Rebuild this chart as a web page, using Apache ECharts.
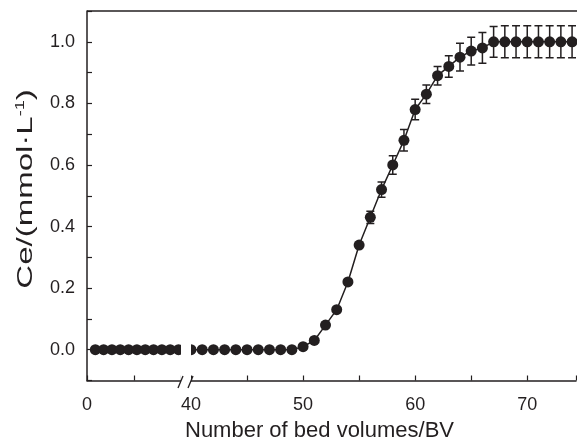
<!DOCTYPE html>
<html>
<head>
<meta charset="utf-8">
<script src="https://cdn.jsdelivr.net/npm/echarts@6/dist/echarts.min.js"></script>
<style>html,body{margin:0;padding:0;background:#fff}#c{width:577px;height:441px}</style>
</head>
<body>
<div id="c"></div>
<script>
// Left segment (before axis break)
const leftBV = [1, 2, 3, 4, 5, 6, 7, 8, 9, 10, 11];
const leftCe = [0, 0, 0, 0, 0, 0, 0, 0, 0, 0, 0];
// Right segment (after axis break)
const rightBV = [40, 41, 42, 43, 44, 45, 46, 47, 48, 49, 50, 51, 52, 53, 54, 55, 56, 57, 58, 59, 60, 61, 62, 63, 64, 65, 66, 67, 68, 69, 70, 71, 72, 73, 74];
const rightCe = [0, 0, 0, 0, 0, 0, 0, 0, 0, 0, 0.01, 0.03, 0.08, 0.13, 0.22, 0.34, 0.43, 0.52, 0.60, 0.68, 0.78, 0.83, 0.89, 0.92, 0.95, 0.97, 0.98, 1.0, 1.0, 1.0, 1.0, 1.0, 1.0, 1.0, 1.0];
const rightErr = [0, 0, 0, 0, 0, 0, 0, 0, 0, 0, 0, 0, 0, 0, 0, 0, 0.02, 0.025, 0.03, 0.035, 0.033, 0.03, 0.03, 0.035, 0.045, 0.045, 0.05, 0.05, 0.052, 0.052, 0.052, 0.052, 0.052, 0.052, 0.052];
const yTicks = ['0.0', '0.2', '0.4', '0.6', '0.8', '1.0'];
const xTitle = 'Number of bed volumes/BV';
const yTitle = 'Ce/(mmol·L{sup|-1})';

const INK = '#231f20';
const FONT = 'Liberation Sans, Arial, sans-serif';
const chart = echarts.init(document.getElementById('c'));

const leftData = leftBV.map((x, i) => [x, leftCe[i]]);
const rightData = rightBV.map((x, i) => [x, rightCe[i]]);
const errData = rightBV.map((x, i) => [x, rightCe[i], rightErr[i]]).filter(d => d[2] > 0);

const axisCommon = {
  axisLine: { show: true, onZero: false, lineStyle: { color: INK, width: 1.5 } },
  axisTick: { show: true, inside: true, length: 5, lineStyle: { color: INK, width: 1.2 } },
  splitLine: { show: false },
  axisLabel: { color: INK, fontSize: 18, fontFamily: FONT }
};

chart.setOption({
  animation: false,
  backgroundColor: '#fff',
  grid: [
    { left: 87, top: 11, width: 94, height: 369.5, containLabel: false, outerBoundsMode: 'none' },
    { left: 191, top: 11, width: 385, height: 369.5, containLabel: false, outerBoundsMode: 'none' }
  ],
  xAxis: [
    Object.assign({}, axisCommon, {
      type: 'value', gridIndex: 0, min: 0, max: 11.3, interval: 5.65,
      axisLabel: Object.assign({}, axisCommon.axisLabel, { margin: 16,
        formatter: v => (Math.abs(v) < 1e-9 ? '0' : '') })
    }),
    Object.assign({}, axisCommon, {
      type: 'value', gridIndex: 1, min: 40, max: 74.35, interval: 5,
      axisLabel: Object.assign({}, axisCommon.axisLabel, { margin: 16,
        formatter: v => (Math.round(v) % 10 === 0 ? String(Math.round(v)) : '') }),
      name: xTitle, nameLocation: 'middle', nameGap: 39,
      nameTextStyle: { color: INK, fontSize: 22, fontFamily: FONT, padding: [0, 128, 0, 0] }
    })
  ],
  yAxis: [
    Object.assign({}, axisCommon, {
      type: 'value', gridIndex: 0, min: -0.1, max: 1.1, interval: 0.1,
      axisLabel: Object.assign({}, axisCommon.axisLabel, { margin: 12,
        formatter: v => { const r = Math.round(v * 10); return (r % 2 === 0 && r >= 0 && r <= 10) ? yTicks[r / 2] : ''; } })
    }),
    { type: 'value', gridIndex: 1, min: -0.1, max: 1.1, interval: 0.1, show: false }
  ],
  series: [
    {
      type: 'line', xAxisIndex: 0, yAxisIndex: 0, data: leftData,
      symbol: 'circle', symbolSize: 11, showSymbol: true, clip: true,
      lineStyle: { color: INK, width: 1.5 }, itemStyle: { color: INK }
    },
    {
      type: 'custom', xAxisIndex: 1, yAxisIndex: 1, data: errData, clip: true, z: 1,
      renderItem: (params, api) => {
        const x = api.value(0), y = api.value(1), e = api.value(2);
        const top = api.coord([x, y + e]);
        const bot = api.coord([x, y - e]);
        const w = 4;
        const st = { stroke: INK, lineWidth: 1.5 };
        return { type: 'group', children: [
          { type: 'line', shape: { x1: top[0], y1: top[1], x2: bot[0], y2: bot[1] }, style: st },
          { type: 'line', shape: { x1: top[0] - w, y1: top[1], x2: top[0] + w, y2: top[1] }, style: st },
          { type: 'line', shape: { x1: bot[0] - w, y1: bot[1], x2: bot[0] + w, y2: bot[1] }, style: st }
        ] };
      }
    },
    {
      type: 'line', xAxisIndex: 1, yAxisIndex: 1, data: rightData, z: 3,
      symbol: 'circle', symbolSize: 11, showSymbol: true, clip: true,
      lineStyle: { color: INK, width: 1.5 }, itemStyle: { color: INK }
    }
  ],
  graphic: [
    { type: 'line', shape: { x1: 87, y1: 11, x2: 577, y2: 11 }, style: { stroke: INK, lineWidth: 1.5 }, z: 10 },
    { type: 'rect', shape: { x: 181, y: 340, width: 10, height: 50 }, style: { fill: '#fff' }, z: 10 },
    { type: 'line', shape: { x1: 178, y1: 388, x2: 183, y2: 376 }, style: { stroke: INK, lineWidth: 1.3 }, z: 11 },
    { type: 'line', shape: { x1: 188, y1: 388, x2: 193, y2: 376 }, style: { stroke: INK, lineWidth: 1.3 }, z: 11 },
    {
      type: 'text', x: 26, y: 189, rotation: Math.PI / 2, scaleX: 1.5, z: 11,
      style: {
        text: yTitle, fill: INK, font: '22px ' + FONT, align: 'center', verticalAlign: 'middle',
        rich: { sup: { fontSize: 12, fontFamily: FONT, fill: INK, verticalAlign: 'top', padding: [0, 0, 10, 0] } }
      }
    }
  ]
});
</script>
</body>
</html>
